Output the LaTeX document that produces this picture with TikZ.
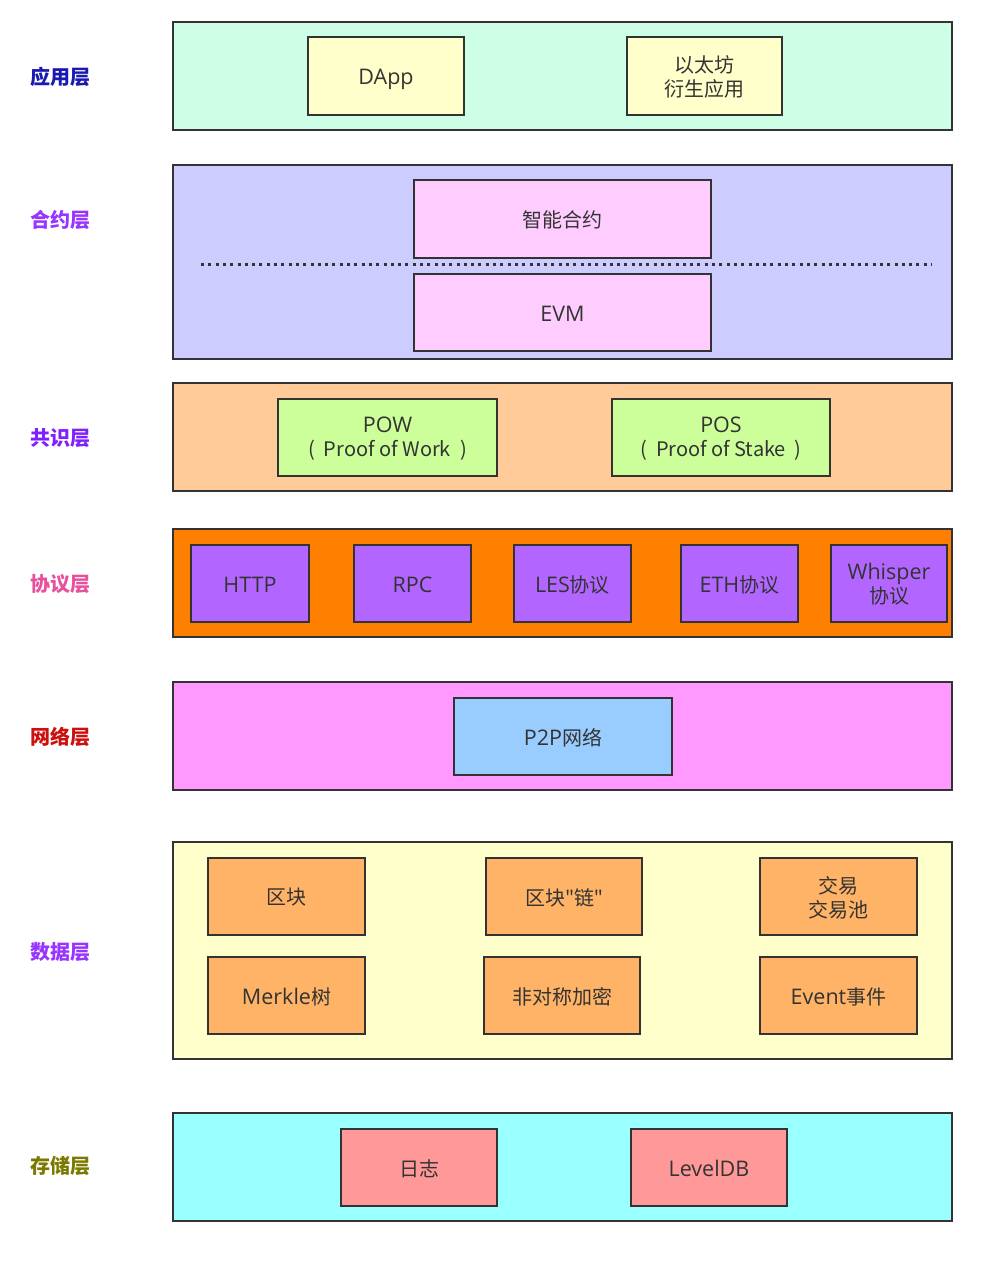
\documentclass[tikz,border=0pt]{standalone}
\usepackage{fontspec}
\newfontfamily\cjk{Noto Sans CJK SC}
\newfontfamily\latfont{Open Sans}
\newcommand\lat{\latfont\fontsize{21.5}{24}\selectfont}
\begin{document}
\begin{tikzpicture}[x=1pt,y=-1pt,
  every node/.style={inner sep=0pt,outer sep=0pt},
  layer/.style={draw=bordercol,line width=2.8pt,minimum width=779pt},
  txt/.style={text=textcol,align=center,yshift=-1pt,
    font=\cjk\fontsize{20}{24}\selectfont},
  itembox/.style={draw=bordercol,line width=2.8pt,minimum height=77pt},
  item/.style={itembox,label={[txt]center:#1}},
  lbl/.style={font=\cjk\fontsize{20}{24}\selectfont\bfseries},
  dotline/.style={line width=3pt,dash pattern=on 3pt off 4.3pt,color=bordercol}]
\definecolor{bordercol}{HTML}{333333}
\definecolor{textcol}{HTML}{333333}
\definecolor{cA}{HTML}{CCFFE6}
\definecolor{cB}{HTML}{CCCCFF}
\definecolor{cC}{HTML}{FFCC99}
\definecolor{cD}{HTML}{FF8000}
\definecolor{cE}{HTML}{FF99FF}
\definecolor{cF}{HTML}{FFFFCC}
\definecolor{cG}{HTML}{99FFFF}
\definecolor{iA}{HTML}{FFFFCC}
\definecolor{iB}{HTML}{FFCCFF}
\definecolor{iC}{HTML}{CCFF99}
\definecolor{iD}{HTML}{B266FF}
\definecolor{iE}{HTML}{99CCFF}
\definecolor{iF}{HTML}{FFB366}
\definecolor{iG}{HTML}{FF9999}
\definecolor{lA}{HTML}{1A1AB0}
\definecolor{lB}{HTML}{9933FF}
\definecolor{lC}{HTML}{8020FF}
\definecolor{lD}{HTML}{E8509E}
\definecolor{lE}{HTML}{CC1010}
\definecolor{lF}{HTML}{9933FF}
\definecolor{lG}{HTML}{7A7A00}
\useasboundingbox (0,0) rectangle (1000,1268);
\fill[white] (0,0) rectangle (1000,1268);
% layers
\node[layer,fill=cA,minimum height=108pt] (L1) at (562.5,76) {};
\node[layer,fill=cB,minimum height=194pt] (L2) at (562.5,262) {};
\node[layer,fill=cC,minimum height=108pt] (L3) at (562.5,437) {};
\node[layer,fill=cD,minimum height=108pt] (L4) at (562.5,583) {};
\node[layer,fill=cE,minimum height=108pt] (L5) at (562.5,736) {};
\node[layer,fill=cF,minimum height=217pt] (L6) at (562.5,950.5) {};
\node[layer,fill=cG,minimum height=108pt] (L7) at (562.5,1167) {};
% labels
\node[lbl,text=lA] (T1) at (60,77) {应用层};
\node[lbl,text=lB] (T2) at (60,220) {合约层};
\node[lbl,text=lC] (T3) at (60,438) {共识层};
\node[lbl,text=lD] (T4) at (60,584) {协议层};
\node[lbl,text=lE] (T5) at (60,737) {网络层};
\node[lbl,text=lF] (T6) at (60,952) {数据层};
\node[lbl,text=lG] (T7) at (60,1166) {存储层};
% application layer
\node[itembox,label={[txt,yshift=-2.5pt]center:{\lat DApp}},fill=iA,minimum width=156pt,minimum height=78pt] (dapp) at (386,76) {};
\node[item={以太坊\\衍生应用},fill=iA,minimum width=155pt,minimum height=78pt] (deriv) at (704.5,76) {};
% contract layer
\node[item={智能合约},fill=iB,minimum width=297pt,minimum height=78pt] (sc) at (562.5,219) {};
\node[item={{\lat EVM}},fill=iB,minimum width=297pt] (evm) at (562.5,312.5) {};
\coordinate (dl) at (201,264);
\coordinate (dr) at (932,264);
\draw[dotline] (dl) -- (dr);
% consensus layer
\node[item={{\lat POW\\(\hspace{9pt}Proof of Work\hspace{9pt})}},fill=iC,minimum width=219pt] (pow) at (387.5,437.5) {};
\node[item={{\lat POS\\(\hspace{9pt}Proof of Stake\hspace{9pt})}},fill=iC,minimum width=218pt] (pos) at (721,437.5) {};
% protocol layer
\node[item={{\lat HTTP}},fill=iD,minimum width=118pt] (http) at (250,583.5) {};
\node[item={{\lat RPC}},fill=iD,minimum width=117pt] (rpc) at (412.5,583.5) {};
\node[item={{\lat LES}协议},fill=iD,minimum width=117pt] (les) at (572.5,583.5) {};
\node[item={{\lat ETH}协议},fill=iD,minimum width=117pt] (eth) at (739.5,583.5) {};
\node[item={{\lat Whisper}\\协议},fill=iD,minimum width=116pt] (whisper) at (889,583.5) {};
% network layer
\node[item={{\lat P2P}网络},fill=iE,minimum width=218pt] (p2p) at (563,736.5) {};
% data layer
\node[item={区块},fill=iF,minimum width=157pt] (block) at (286.5,896.5) {};
\node[item={区块{\lat"}链{\lat"}},fill=iF,minimum width=156pt] (chain) at (564,896.5) {};
\node[item={交易\\交易池},fill=iF,minimum width=157pt] (tx) at (838.5,896.5) {};
\node[item={{\lat Merkle}树},fill=iF,minimum width=157pt] (merkle) at (286.5,995.5) {};
\node[item={非对称加密},fill=iF,minimum width=156pt] (crypto) at (562,995.5) {};
\node[item={{\lat Event}事件},fill=iF,minimum width=157pt] (event) at (838.5,995.5) {};
% storage layer
\node[item={日志},fill=iG,minimum width=156pt] (log) at (419,1167.5) {};
\node[item={{\lat LevelDB}},fill=iG,minimum width=156pt] (leveldb) at (709,1167.5) {};
\end{tikzpicture}
\end{document}
